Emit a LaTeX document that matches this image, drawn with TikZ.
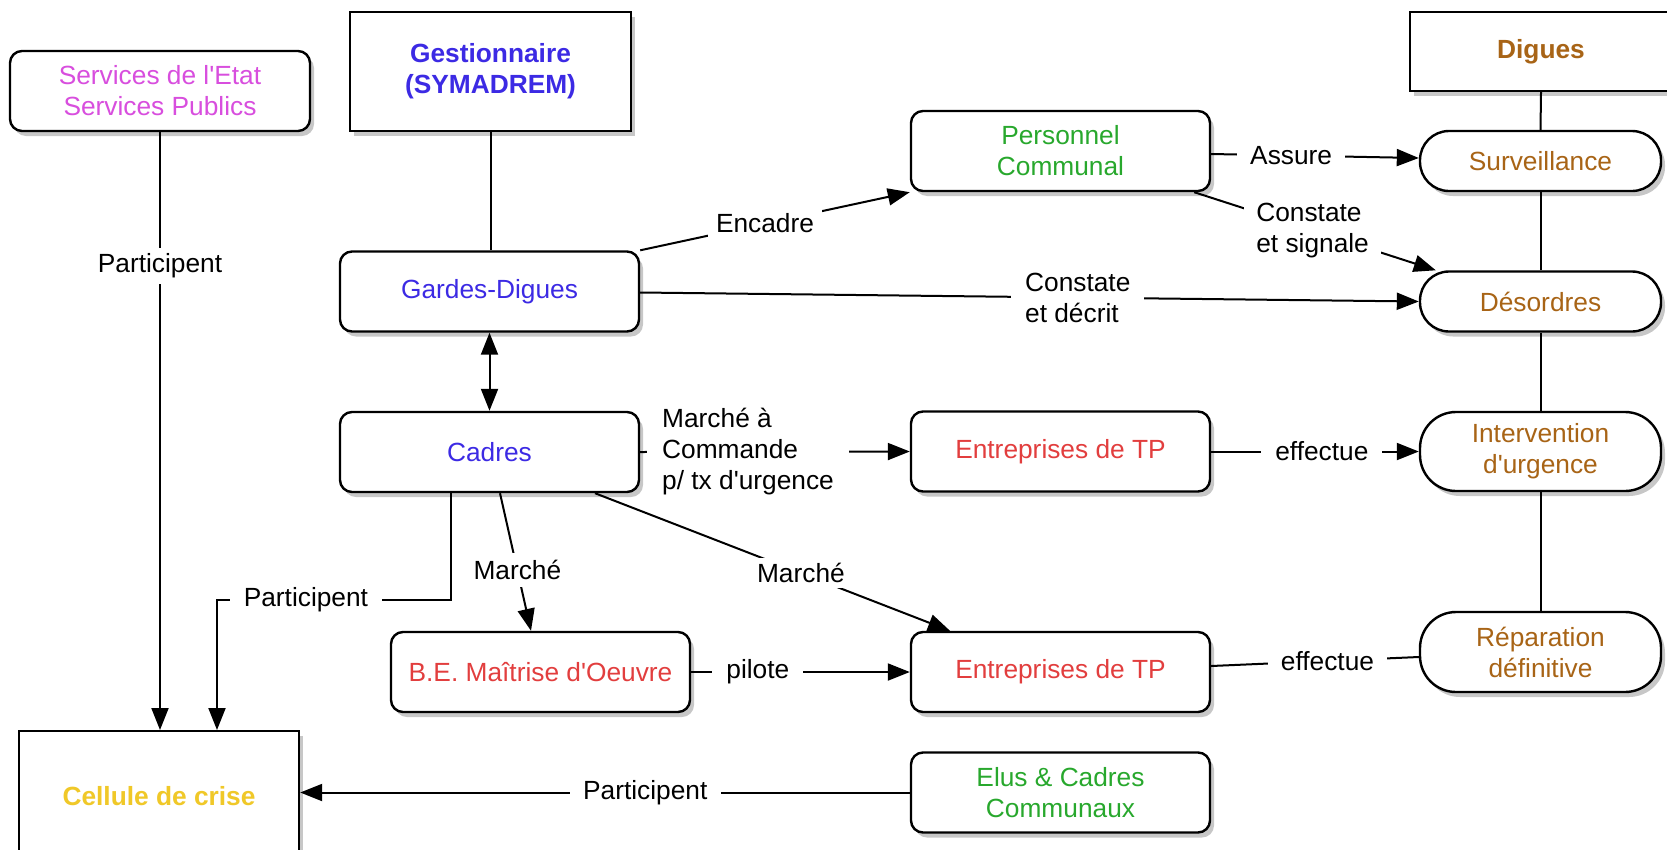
\documentclass[tikz,border=0pt]{standalone}
\usepackage{fontspec}
\setmainfont{Liberation Sans}
\usetikzlibrary{arrows.meta,shadows}
\definecolor{cmag}{RGB}{216,78,222}
\definecolor{cblue}{RGB}{60,42,228}
\definecolor{cgreen}{RGB}{40,168,45}
\definecolor{cred}{RGB}{226,62,62}
\definecolor{cbrown}{RGB}{168,100,22}
\definecolor{cyellow}{RGB}{240,200,40}
\newcommand{\apo}{\textquotesingle}
\begin{document}
\begin{tikzpicture}[x=1pt,y=-1pt,
  every node/.style={font=\fontsize{26.3}{31}\selectfont},
  box/.style={draw, line width=2.4pt, rounded corners=12pt, fill=white, align=center, inner sep=0pt,
    minimum width=299pt, minimum height=80pt,
    drop shadow={shadow xshift=4pt, shadow yshift=-5pt, opacity=0.22, fill=black}},
  sqbox/.style={box, rounded corners=0pt},
  pill/.style={box, minimum width=241pt, rounded corners=29pt},
  conn/.style={line width=2pt},
  arr/.style={conn, -{Triangle[length=22pt,width=17pt]}},
  dblarr/.style={conn, {Triangle[length=22pt,width=17pt]}-{Triangle[length=22pt,width=17pt]}},
  lab/.style={fill=white, inner xsep=13pt, inner ysep=6pt, align=left},
]
\useasboundingbox (0,0) rectangle (1667,849);

% nodes
\node[box, minimum width=300pt, text=cmag] (serv) at (160,91) {Services de l\apo Etat\\Services Publics};
\node[sqbox, minimum width=281pt, minimum height=119pt, text=cblue] (gest) at (490.5,71.5) {\bfseries Gestionnaire\\\bfseries (SYMADREM)};
\node[sqbox, minimum width=262pt, minimum height=79pt, text=cbrown] (digues) at (1541,51.5) {\bfseries Digues};
\node[box, text=cgreen] (pers) at (1060.5,151) {Personnel\\Communal};
\node[pill, minimum height=60pt, text=cbrown] (surv) at (1540.5,161) {Surveillance};
\node[box, text=cblue] (gardes) at (489.5,291.5) {Gardes-Digues};
\node[pill, minimum height=60pt, text=cbrown] (desord) at (1540.5,301.5) {Désordres};
\node[box, text=cblue] (cadres) at (489.5,452) {Cadres};
\node[box, text=cred] (ent1) at (1060.5,451.5) {Entreprises de TP};
\node[pill, minimum height=79pt, rounded corners=36pt, text=cbrown] (interv) at (1540.5,451.5) {Intervention\\d\apo urgence};
\node[box, text=cred] (be) at (540.5,672) {B.E. Maîtrise d\apo Oeuvre};
\node[box, text=cred] (ent2) at (1060.5,672) {Entreprises de TP};
\node[pill, minimum height=80pt, rounded corners=36pt, text=cbrown] (repar) at (1540.5,652) {Réparation\\définitive};
\node[sqbox, minimum width=280pt, minimum height=150pt, anchor=north, text=cyellow] (cellule) at (159,730) {\raisebox{20pt}{\bfseries Cellule de crise}};
\node[box, text=cgreen] (elus) at (1060.5,792.5) {Elus \& Cadres\\Communaux};

\coordinate (pc) at (217,600);

% connectors
\draw[arr] (serv.south) -- node[lab, pos=0.224]{Participent} (serv.south |- cellule.north);
\draw[conn] (gest.south) -- (gest.south |- gardes.north);
\draw[dblarr] (gardes.south) -- (cadres.north);
\draw[arr] (gardes.north east) -- node[lab, inner xsep=8pt, inner ysep=4pt, pos=0.463]{Encadre} (pers.south west);
\draw[arr] ([yshift=-3pt]pers.east) -- node[lab, pos=0.385]{Assure} ([yshift=3pt]surv.west);
\draw[arr] ([xshift=-17pt]pers.south east) -- node[lab, inner xsep=12pt, inner ysep=10pt, pos=0.49]{Constate\\et signale} ([xshift=17pt]desord.north west);
\draw[arr] ([yshift=-1pt]gardes.east) -- node[lab, inner xsep=14pt, pos=0.562]{Constate\\et décrit} (desord.west);
\draw[arr] (cadres.east) -- node[lab, inner xsep=15pt, inner ysep=3pt, pos=0.40]{Marché à\\Commande\\p/ tx d\apo urgence} (ent1.west);
\draw[arr] (ent1.east) -- node[lab, inner xsep=14pt, pos=0.533]{effectue} (interv.west);
\draw[arr] ([xshift=-38.5pt]cadres.south) |- node[lab, inner xsep=14pt, pos=0.81]{Participent} (pc) -- (pc |- cellule.north);
\draw[arr] ([xshift=10.5pt]cadres.south) -- node[lab, inner sep=7pt, pos=0.56]{Marché} ([xshift=-9.5pt]be.north);
\draw[arr] ([xshift=105.5pt]cadres.south) -- node[lab, inner sep=5pt, pos=0.58]{Marché} ([xshift=-110.5pt]ent2.north);
\draw[arr] (be.east) -- node[lab, inner xsep=14pt, pos=0.305]{pilote} (ent2.west);
\draw[conn] ([yshift=6pt]ent2.east) -- node[lab, inner xsep=13pt, pos=0.56]{effectue} ([yshift=-5pt]repar.west);
\draw[arr] (elus.west) -- node[lab, inner xsep=13.5pt, pos=0.434]{Participent} (elus.west -| cellule.east);

\draw[conn] (digues.south) -- (surv.north);
\draw[conn] (surv.south) -- (desord.north);
\draw[conn] (desord.south) -- (interv.north);
\draw[conn] (interv.south) -- (repar.north);
\end{tikzpicture}
\end{document}
